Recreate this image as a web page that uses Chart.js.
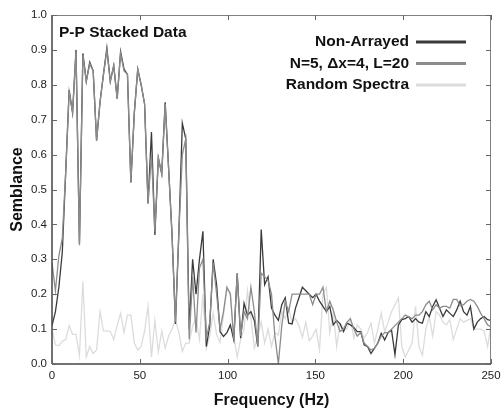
<!DOCTYPE html>
<html>
<head>
<meta charset="utf-8">
<script src="https://cdn.jsdelivr.net/npm/chart.js@4"></script>
<style>
  html, body { margin: 0; padding: 0; background: #fff; }
  #wrap { width: 503px; height: 410px; }
</style>
</head>
<body>
<div id="wrap"><canvas id="chart" width="503" height="410"></canvas></div>
<script>
// frequency samples (Hz)
const freqHz = [
  0, 1.95, 3.91, 5.86, 7.81, 9.77, 11.72, 13.67, 15.63, 17.58,
  19.53, 21.48, 23.44, 25.39, 27.34, 29.3, 31.25, 33.2, 35.16, 37.11,
  39.06, 41.02, 42.97, 44.92, 46.88, 48.83, 50.78, 52.73, 54.69, 56.64,
  58.59, 60.55, 62.5, 64.45, 66.41, 68.36, 70.31, 72.27, 74.22, 76.17,
  78.13, 80.08, 82.03, 83.98, 85.94, 87.89, 89.84, 91.8, 93.75, 95.7,
  97.66, 99.61, 101.56, 103.52, 105.47, 107.42, 109.38, 111.33, 113.28, 115.23,
  117.19, 119.14, 121.09, 123.05, 125, 126.95, 128.91, 130.86, 132.81, 134.77,
  136.72, 138.67, 140.63, 142.58, 144.53, 146.48, 148.44, 150.39, 152.34, 154.3,
  156.25, 158.2, 160.16, 162.11, 164.06, 166.02, 167.97, 169.92, 171.88, 173.83,
  175.78, 177.73, 179.69, 181.64, 183.59, 185.55, 187.5, 189.45, 191.41, 193.36,
  195.31, 197.27, 199.22, 201.17, 203.13, 205.08, 207.03, 208.98, 210.94, 212.89,
  214.84, 216.8, 218.75, 220.7, 222.66, 224.61, 226.56, 228.52, 230.47, 232.42,
  234.38, 236.33, 238.28, 240.23, 242.19, 244.14, 246.09, 248.05, 250
];

// semblance, non-arrayed
const nonArrayed = [
  0.11, 0.15, 0.22, 0.32, 0.55, 0.785, 0.72, 0.9, 0.345, 0.89,
  0.81, 0.865, 0.84, 0.64, 0.75, 0.83, 0.905, 0.81, 0.855, 0.76,
  0.895, 0.845, 0.83, 0.52, 0.72, 0.845, 0.8, 0.745, 0.46, 0.665,
  0.37, 0.59, 0.545, 0.75, 0.56, 0.37, 0.115, 0.38, 0.69, 0.645,
  0.1, 0.3, 0.2, 0.3, 0.38, 0.05, 0.11, 0.3, 0.227, 0.093,
  0.079, 0.09, 0.112, 0.069, 0.26, 0.074, 0.174, 0.14, 0.15, 0.124,
  0.05, 0.385, 0.227, 0.25, 0.16, 0.14, 0.125, 0.17, 0.19, 0.117,
  0.115, 0.16, 0.19, 0.22, 0.21, 0.2, 0.19, 0.2, 0.18, 0.165,
  0.15, 0.165, 0.112, 0.125, 0.115, 0.093, 0.117, 0.112, 0.105, 0.093,
  0.093, 0.055, 0.05, 0.03, 0.045, 0.06, 0.088, 0.069, 0.09, 0.097,
  0.027, 0.112, 0.127, 0.13, 0.136, 0.12, 0.13, 0.12, 0.117, 0.15,
  0.136, 0.165, 0.184, 0.16, 0.136, 0.155, 0.145, 0.136, 0.155, 0.18,
  0.15, 0.14, 0.165, 0.1, 0.12, 0.13, 0.136, 0.127, 0.125
];

// semblance, N=5, dx=4, L=20
const arrayN5 = [
  0.29, 0.21, 0.31, 0.36, 0.55, 0.78, 0.72, 0.895, 0.34, 0.885,
  0.81, 0.86, 0.84, 0.64, 0.75, 0.83, 0.9, 0.81, 0.855, 0.76,
  0.89, 0.84, 0.83, 0.52, 0.72, 0.845, 0.8, 0.745, 0.46, 0.6,
  0.38, 0.59, 0.545, 0.745, 0.56, 0.37, 0.12, 0.38, 0.6, 0.645,
  0.07, 0.25, 0.09, 0.275, 0.3, 0.074, 0.12, 0.29, 0.2, 0.1,
  0.15, 0.22, 0.2, 0.07, 0.26, 0.08, 0.15, 0.13, 0.22, 0.15,
  0.05, 0.26, 0.25, 0.24, 0.2, 0.08, 0.0, 0.11, 0.18, 0.15,
  0.2, 0.2, 0.2, 0.2, 0.2, 0.2, 0.17, 0.2, 0.2, 0.22,
  0.15, 0.18, 0.155, 0.12, 0.093, 0.1, 0.12, 0.13, 0.1, 0.08,
  0.09, 0.06, 0.05, 0.04, 0.045, 0.06, 0.08, 0.09, 0.09, 0.1,
  0.11, 0.12, 0.13, 0.14, 0.135, 0.13, 0.14, 0.14, 0.15, 0.17,
  0.18, 0.155, 0.17, 0.16, 0.165, 0.165, 0.16, 0.185, 0.185, 0.167,
  0.17, 0.18, 0.185, 0.18, 0.165, 0.145, 0.13, 0.112, 0.107
];

// semblance, random spectra
const randomSpectra = [
  0.1, 0.055, 0.052, 0.065, 0.07, 0.11, 0.085, 0.085, 0.024, 0.236,
  0.02, 0.05, 0.03, 0.04, 0.15, 0.095, 0.095, 0.093, 0.07, 0.11,
  0.145, 0.09, 0.14, 0.14, 0.06, 0.04, 0.05, 0.095, 0.166, 0.02,
  0.125, 0.035, 0.095, 0.045, 0.08, 0.1, 0.126, 0.09, 0.036, 0.06,
  0.06, 0.11, 0.13, 0.07, 0.2, 0.045, 0.08, 0.146, 0.084, 0.062,
  0.14, 0.214, 0.206, 0.08, 0.02, 0.07, 0.1, 0.21, 0.13, 0.045,
  0.08, 0.12, 0.06, 0.1, 0.05, 0.09, 0.083, 0.152, 0.13, 0.16,
  0.12, 0.13, 0.11, 0.076, 0.12, 0.067, 0.08, 0.1, 0.04, 0.2,
  0.22, 0.09, 0.15, 0.05, 0.117, 0.1, 0.1, 0.13, 0.074, 0.112,
  0.1, 0.074, 0.09, 0.117, 0.06, 0.1, 0.146, 0.093, 0.12, 0.15,
  0.17, 0.19, 0.05, 0.02, 0.04, 0.06, 0.165, 0.05, 0.025, 0.1,
  0.136, 0.08, 0.15, 0.14, 0.12, 0.112, 0.127, 0.07, 0.1, 0.13,
  0.12, 0.125, 0.13, 0.1, 0.1, 0.1, 0.095, 0.05, 0.112
];

const seriesNames = ['Non-Arrayed', 'N=5, \u0394x=4, L=20', 'Random Spectra'];
const seriesColors = ['#3a3a3a', '#8c8c8c', '#dcdcdc'];
const xTicks = [0, 50, 100, 150, 200, 250];
const yTicks = [0, 0.1, 0.2, 0.3, 0.4, 0.5, 0.6, 0.7, 0.8, 0.9, 1.0];
const chartTitle = 'P-P Stacked Data';

const FONT = '"Liberation Sans", Arial, sans-serif';

function pts(vals) {
  return freqHz.map((f, i) => ({x: f, y: vals[i]}));
}

// frame, inward ticks, inner title and legend (text left of line sample)
const decorPlugin = {
  id: 'decor',
  afterDraw(chart) {
    const {ctx, chartArea: a, scales: {x, y}} = chart;
    ctx.save();
    // frame
    ctx.strokeStyle = '#808080';
    ctx.lineWidth = 1;
    ctx.beginPath();
    ctx.moveTo(a.left, a.top + 0.5); ctx.lineTo(a.right, a.top + 0.5);
    ctx.moveTo(a.right - 0.5, a.top); ctx.lineTo(a.right - 0.5, a.bottom);
    ctx.stroke();
    ctx.strokeStyle = '#444';
    ctx.lineWidth = 1.5;
    ctx.beginPath();
    ctx.moveTo(a.left, a.bottom); ctx.lineTo(a.right, a.bottom);
    ctx.moveTo(a.left, a.top); ctx.lineTo(a.left, a.bottom);
    ctx.stroke();
    // ticks
    ctx.strokeStyle = '#666';
    ctx.lineWidth = 1;
    ctx.beginPath();
    xTicks.forEach(v => {
      const px = Math.round(x.getPixelForValue(v)) + 0.5;
      ctx.moveTo(px, a.bottom); ctx.lineTo(px, a.bottom - 5);
      ctx.moveTo(px, a.top); ctx.lineTo(px, a.top + 5);
    });
    yTicks.forEach(v => {
      const py = Math.round(y.getPixelForValue(v)) + 0.5;
      ctx.moveTo(a.left, py); ctx.lineTo(a.left + 5, py);
      ctx.moveTo(a.right, py); ctx.lineTo(a.right - 5, py);
    });
    ctx.stroke();
    // inner title
    ctx.fillStyle = '#111';
    ctx.font = 'bold 15.5px ' + FONT;
    ctx.textAlign = 'left';
    ctx.textBaseline = 'alphabetic';
    ctx.fillText(chartTitle, a.left + 7, a.top + 22);
    // legend
    ctx.font = 'bold 15.5px ' + FONT;
    ctx.textAlign = 'right';
    ctx.textBaseline = 'middle';
    seriesNames.forEach((name, i) => {
      const ly = a.top + 27 + i * 21.5;
      ctx.fillStyle = '#111';
      ctx.fillText(name, 409, ly);
      ctx.strokeStyle = seriesColors[i];
      ctx.lineWidth = 3;
      ctx.beginPath();
      ctx.moveTo(416, ly); ctx.lineTo(466, ly);
      ctx.stroke();
    });
    ctx.restore();
  }
};

new Chart(document.getElementById('chart'), {
  type: 'line',
  data: {
    datasets: [
      {label: seriesNames[0], data: pts(nonArrayed), borderColor: seriesColors[0], order: 1},
      {label: seriesNames[1], data: pts(arrayN5), borderColor: seriesColors[1], order: 0},
      {label: seriesNames[2], data: pts(randomSpectra), borderColor: seriesColors[2], order: 2}
    ]
  },
  options: {
    responsive: false,
    animation: false,
    layout: {padding: {top: 15, right: 12, left: 0, bottom: 0}},
    elements: {
      line: {borderWidth: 1.3, tension: 0, fill: false},
      point: {radius: 0}
    },
    plugins: {legend: {display: false}, tooltip: {enabled: false}},
    scales: {
      x: {
        type: 'linear', min: 0, max: 250,
        afterFit: s => { s.height = 46; s.paddingLeft = 0; s.paddingRight = 0; },
        grid: {display: false, drawTicks: false},
        border: {display: false},
        ticks: {stepSize: 50, padding: 5, color: '#222', font: {family: FONT, size: 11.5}},
        title: {display: true, text: 'Frequency (Hz)', color: '#111',
                font: {family: FONT, size: 16, weight: 'bold'}, padding: {top: 0, bottom: 0}}
      },
      y: {
        min: 0, max: 1,
        afterFit: s => { s.width = 52; s.paddingTop = 0; s.paddingBottom = 0; },
        grid: {display: false, drawTicks: false},
        border: {display: false},
        ticks: {stepSize: 0.1, padding: 5, color: '#222', font: {family: FONT, size: 11.5},
                callback: v => v.toFixed(1)},
        title: {display: true, text: 'Semblance', color: '#111',
                font: {family: FONT, size: 16, weight: 'bold'}, padding: {top: 8, bottom: 0}}
      }
    }
  },
  plugins: [decorPlugin]
});
</script>
</body>
</html>
